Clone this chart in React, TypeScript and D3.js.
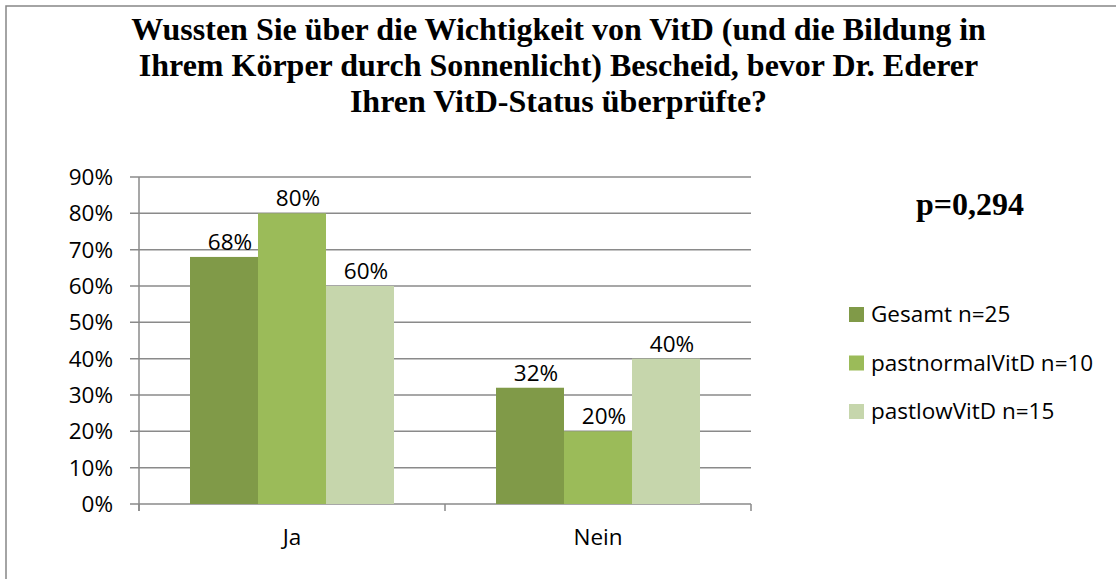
import React from 'react';
import * as d3 from 'd3';

const titleLines = [
  'Wussten Sie über die Wichtigkeit von VitD (und die Bildung in',
  'Ihrem Körper durch Sonnenlicht) Bescheid, bevor Dr. Ederer',
  'Ihren VitD-Status überprüfte?',
];
const categories = ['Ja', 'Nein'];
const seriesNames = ['Gesamt n=25', 'pastnormalVitD n=10', 'pastlowVitD n=15'];
const gesamt = [0.68, 0.32];
const pastNormal = [0.8, 0.2];
const pastLow = [0.6, 0.4];
const yTicks = [0, 0.1, 0.2, 0.3, 0.4, 0.5, 0.6, 0.7, 0.8, 0.9];
const pValue = 'p=0,294';

const seriesValues = [gesamt, pastNormal, pastLow];
const colors = ['#809a48', '#9bbb59', '#c6d6ac'];

const W = 1116;
const H = 579;
const sans = "'Open Sans', sans-serif";
const serif = "'Liberation Serif', 'Times New Roman', serif";

export default function App() {
  const x = d3.scaleBand<string>().domain(categories).range([139, 751]).padding(0);
  const xs = d3.scaleBand<number>().domain([0, 1, 2]).range([0, x.bandwidth()]).paddingInner(0).paddingOuter(0.75);
  const y = d3.scaleLinear().domain([0, 0.9]).range([504, 177]);
  const pct = d3.format('.0%');
  const fs = 22.5;

  return (
    <svg width={W} height={H} style={{ position: 'fixed', left: 0, top: 0, background: '#fff' }}>
      <rect x={6} y={6} width={W + 20} height={H + 20} fill="#fff" stroke="#868686" strokeWidth={1.5} />

      {titleLines.map((t, i) => (
        <text key={i} x={558.5} y={39.5 + i * 36} textAnchor="middle" fontFamily={serif} fontWeight="bold" fontSize={32}>
          {t}
        </text>
      ))}

      {/* gridlines */}
      {yTicks.map(t => (
        <line key={t} x1={130} x2={751} y1={y(t)} y2={y(t)} stroke="#8a8a8a" strokeWidth={1.5} />
      ))}
      {/* y axis */}
      <line x1={139} x2={139} y1={y(0.9)} y2={511} stroke="#8a8a8a" strokeWidth={1.5} />
      {yTicks.map(t => (
        <text key={'l' + t} x={113} y={y(t)} dy="0.35em" textAnchor="end" fontFamily={sans} fontSize={fs} fill="#000">
          {pct(t)}
        </text>
      ))}
      {/* category ticks */}
      {[...categories.map(c => x(c)!), 751].map((cx, i) => (
        <line key={'ct' + i} x1={cx} x2={cx} y1={504} y2={511} stroke="#8a8a8a" strokeWidth={1.5} />
      ))}

      {/* bars */}
      {categories.map((c, ci) => (
        <g key={c} transform={`translate(${x(c)},0)`}>
          {seriesValues.map((vals, si) => (
            <rect key={si} x={xs(si)} y={y(vals[ci])} width={xs.bandwidth()} height={y(0) - y(vals[ci])} fill={colors[si]} />
          ))}
          {seriesValues.map((vals, si) => (
            <text key={'v' + si} x={xs(si)! + xs.bandwidth() / 2 + 6} y={y(vals[ci]) - 7} textAnchor="middle" fontFamily={sans} fontSize={fs} fill="#000">
              {pct(vals[ci])}
            </text>
          ))}
          <text x={x.bandwidth() / 2} y={545} textAnchor="middle" fontFamily={sans} fontSize={fs} fill="#000">
            {c}
          </text>
        </g>
      ))}

      {/* p value */}
      <text x={970} y={215} textAnchor="middle" fontFamily={serif} fontWeight="bold" fontSize={32}>
        {pValue}
      </text>

      {/* legend */}
      {seriesNames.map((s, i) => (
        <g key={s} transform={`translate(849,${307 + i * 48.5})`}>
          <rect width={15} height={15} fill={colors[i]} />
          <text x={22} y={15} fontFamily={sans} fontSize={fs} fill="#000">
            {s}
          </text>
        </g>
      ))}
    </svg>
  );
}
